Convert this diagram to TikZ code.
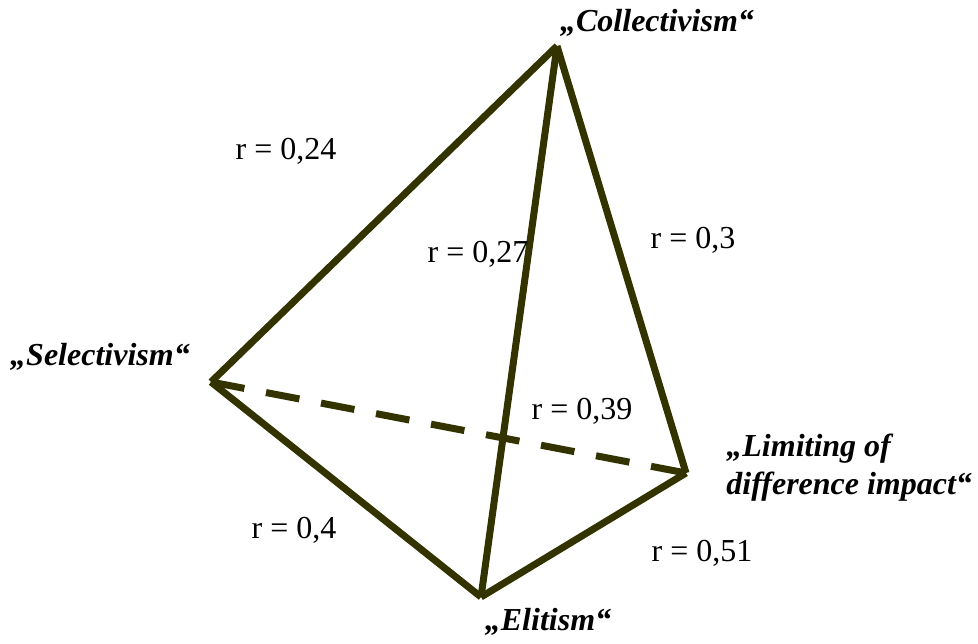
\documentclass[tikz,border=0pt]{standalone}
\usepackage{fontspec}
\setmainfont{Liberation Serif}
\definecolor{edgecol}{RGB}{51,51,0}
\begin{document}
\begin{tikzpicture}[x=0.5pt,y=-0.5pt,
  edge/.style={draw=edgecol,line width=3.5pt,line cap=butt},
  dashedge/.style={edge,dash pattern=on 17pt off 11pt},
  vlabel/.style={font=\fontsize{16}{19}\selectfont\bfseries\itshape,inner sep=0pt},
  rlabel/.style={font=\fontsize{16}{19}\selectfont,inner sep=0pt}]
\useasboundingbox (0,0) rectangle (978,643);
\coordinate (C) at (557,46);
\coordinate (S) at (211,382);
\coordinate (L) at (686,473);
\coordinate (E) at (481,597);
\draw[dashedge] (S) -- (L);
\draw[edge] (C) -- (S);
\draw[edge] (C) -- (E);
\draw[edge] (C) -- (L);
\draw[edge] (S) -- (E);
\draw[edge] (E) -- (L);
\node[vlabel] (nC) at (657,23) {„Collectivism“};
\node[vlabel] (nS) at (100,357) {„Selectivism“};
\node[vlabel,align=left,anchor=west] (nL) at (726,468) {„Limiting of\\difference impact“};
\node[vlabel] (nE) at (548,622) {„Elitism“};
\node[rlabel] (r1) at (286,151) {r = 0,24};
\node[rlabel] (r2) at (478,254) {r = 0,27};
\node[rlabel] (r3) at (693,240) {r = 0,3};
\node[rlabel] (r4) at (582,411) {r = 0,39};
\node[rlabel] (r5) at (294,530) {r = 0,4};
\node[rlabel] (r6) at (702,553) {r = 0,51};
\end{tikzpicture}
\end{document}
